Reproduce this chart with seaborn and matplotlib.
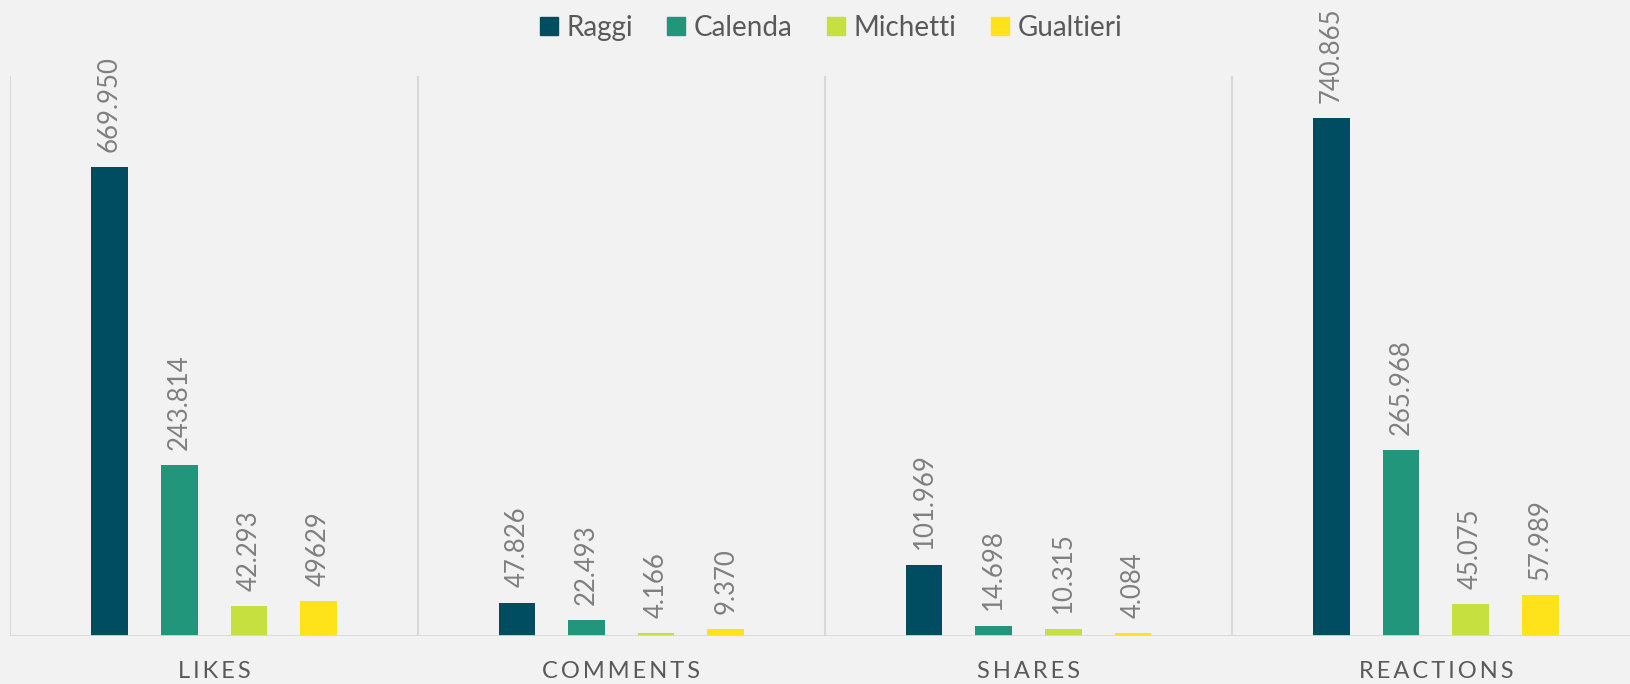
import pandas as pd
import numpy as np
import matplotlib
matplotlib.use("Agg")
import matplotlib.pyplot as plt
import seaborn as sns

# dati
metriche = ["LIKES", "COMMENTS", "SHARES", "REACTIONS"]
candidati = ["Raggi", "Calenda", "Michetti", "Gualtieri"]
raggi = [669950, 47826, 101969, 740865]
calenda = [243814, 22493, 14698, 265968]
michetti = [42293, 4166, 10315, 45075]
gualtieri = [49629, 9370, 4084, 57989]
etichette = {
    "Raggi": ["669.950", "47.826", "101.969", "740.865"],
    "Calenda": ["243.814", "22.493", "14.698", "265.968"],
    "Michetti": ["42.293", "4.166", "10.315", "45.075"],
    "Gualtieri": ["49629", "9.370", "4.084", "57.989"],
}
colori = ["#004C60", "#22967A", "#C5E03F", "#FFE31A"]

valori = {"Raggi": raggi, "Calenda": calenda, "Michetti": michetti, "Gualtieri": gualtieri}
df = pd.DataFrame([
    {"metrica": m, "candidato": c, "valore": valori[c][i], "etichetta": etichette[c][i]}
    for c in candidati for i, m in enumerate(metriche)
])

sns.set_style("white")
plt.rcParams["font.family"] = ["Lato", "DejaVu Sans"]

bg = "#F2F2F2"
fig = plt.figure(figsize=(16.31, 6.84), dpi=100, facecolor=bg)
ax = fig.add_axes([0.0064, 0.0702, 0.9988, 0.818])
ax.set_facecolor(bg)

sns.barplot(data=df, x="metrica", y="valore", hue="candidato", order=metriche,
            hue_order=candidati, palette=colori, width=0.684, gap=0.474,
            saturation=1, legend=False, linewidth=0, ax=ax)

# etichette dati
for cont, c in zip(ax.containers, candidati):
    for bar, lab in zip(cont, etichette[c]):
        ax.annotate(lab, (bar.get_x() + bar.get_width() / 2, bar.get_height()),
                    xytext=(0, 11), textcoords="offset points", rotation=90,
                    ha="center", va="bottom", fontsize=18.5, color="#7F7F7F")

ax.set_ylim(0, 800000)
ax.set_xlim(-0.5, 3.5)
for x in [-0.5, 0.5, 1.5, 2.5, 3.5]:
    ax.axvline(x, color="#D9D9D9", lw=1.5, zorder=0)
ax.axhline(0, color="#D9D9D9", lw=2, zorder=3)
for s in ax.spines.values():
    s.set_visible(False)
ax.set_yticks([])
ax.set_xlabel("")
ax.set_ylabel("")
ax.set_xticks(range(len(metriche)))
ax.set_xticklabels(["\u2009".join(m) for m in metriche], fontsize=17, color="#595959")
ax.tick_params(axis="x", length=0, pad=18)

# legenda
handles = [plt.Rectangle((0, 0), 1, 1, color=col) for col in colori]
fig.legend(handles, candidati, loc="upper center", bbox_to_anchor=(0.5095, 1.015),
           ncol=4, frameon=False, fontsize=20, labelcolor="#595959",
           handlelength=0.65, handleheight=0.65, handletextpad=0.3, columnspacing=1.25)

fig.savefig("out.png", dpi=100, facecolor=bg)
